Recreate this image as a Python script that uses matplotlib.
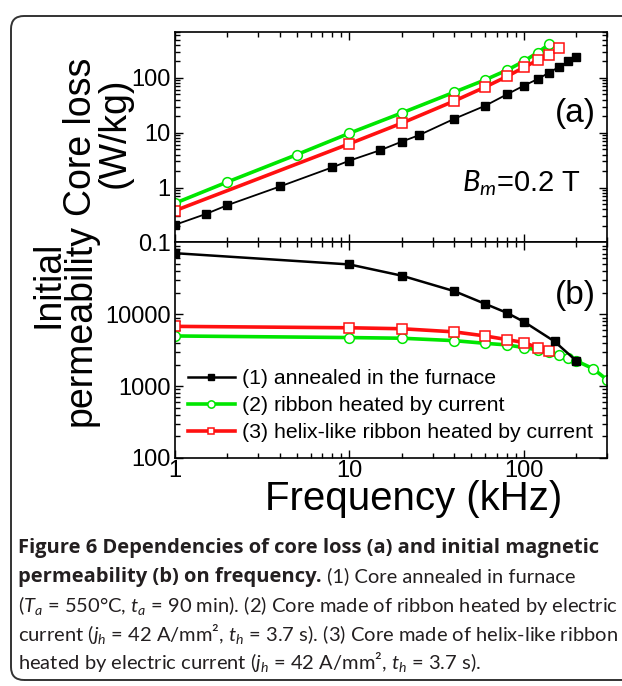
import matplotlib
matplotlib.use("Agg")
import matplotlib.pyplot as plt
from matplotlib.patches import FancyBboxPatch
from matplotlib.ticker import LogLocator, NullFormatter, FixedLocator, FixedFormatter

plt.rcParams["font.family"] = ["Liberation Sans", "DejaVu Sans"]
plt.rcParams["mathtext.fontset"] = "custom"
plt.rcParams["mathtext.rm"] = "Lato"
plt.rcParams["mathtext.it"] = "Lato:italic"

# ---- (a) core loss, W/kg ----
f_loss_1 = [1, 1.5, 2, 4, 8, 10, 15, 20, 25, 40, 60, 80, 100, 120, 140, 160, 180, 200]
loss_1 = [0.21, 0.33, 0.48, 1.05, 2.35, 3.1, 4.8, 6.9, 9.0, 18, 31, 50, 72, 95, 125, 160, 200, 245]
f_loss_2 = [1, 2, 5, 10, 20, 40, 60, 80, 100, 120, 140]
loss_2 = [0.52, 1.27, 4.0, 9.8, 23, 55, 92, 138, 200, 290, 410]
f_loss_3 = [1, 10, 20, 40, 60, 80, 100, 120, 140, 160]
loss_3 = [0.38, 6.3, 15, 38, 68, 106, 155, 210, 260, 345]

# ---- (b) initial permeability ----
f_mu_1 = [1, 10, 20, 40, 60, 80, 100, 150, 200]
mu_1 = [71000, 49500, 34500, 21000, 14000, 10500, 7900, 4200, 2250]
f_mu_2 = [1, 10, 20, 40, 60, 80, 100, 120, 140, 160, 180, 200, 250, 300]
mu_2 = [5000, 4750, 4650, 4300, 3950, 3750, 3450, 3200, 2950, 2750, 2500, 2250, 1750, 1230]
f_mu_3 = [1, 10, 20, 40, 60, 80, 100, 120, 140]
mu_3 = [6800, 6500, 6300, 5700, 5000, 4450, 4050, 3450, 3100]

labels = ["(1) annealed in the furnace",
          "(2) ribbon heated by current",
          "(3) helix-like ribbon heated by current"]

loss_ticks = [0.1, 1, 10, 100]
loss_tick_labels = ["0.1", "1", "10", "100"]
mu_ticks = [100, 1000, 10000]
mu_tick_labels = ["100", "1000", "10000"]
f_ticks = [1, 10, 100]
f_tick_labels = ["1", "10", "100"]

GREEN = "#00e600"
RED = "#ff1010"

W, H = 622, 686
fig = plt.figure(figsize=(W / 100, H / 100), dpi=100)


def px_axes(left, top, right, bottom):
    return fig.add_axes([left / W, 1 - bottom / H, (right - left) / W, (bottom - top) / H])


ax1 = px_axes(175, 31.5, 607, 242.5)
ax2 = px_axes(175, 242.5, 607, 458)

style = dict(
    black=dict(color="black", marker="s", ms=6, mfc="black", mec="black", lw=1.3),
    green=dict(color=GREEN, marker="o", ms=7, mfc="white", mec=GREEN, mew=1.1, lw=2.6),
    red=dict(color=RED, marker="s", ms=6.5, mfc="white", mec=RED, mew=1.1, lw=2.6),
)

ax1.plot(f_loss_2, loss_2, **style["green"])
ax1.plot(f_loss_3, loss_3, **style["red"])
ax1.plot(f_loss_1, loss_1, **style["black"])

h1, = ax2.plot(f_mu_1, mu_1, **{**style["black"], "lw": 1.8})
h2, = ax2.plot(f_mu_2, mu_2, **style["green"])
h3, = ax2.plot(f_mu_3, mu_3, **style["red"])
h1.set_zorder(3)

for ax in (ax1, ax2):
    ax.set_xscale("log")
    ax.set_yscale("log")
    ax.set_xlim(1, 300)
    ax.xaxis.set_major_locator(FixedLocator(f_ticks))
    ax.xaxis.set_minor_locator(LogLocator(base=10, subs=range(2, 10)))
    ax.yaxis.set_minor_locator(LogLocator(base=10, subs=range(2, 10), numticks=20))
    ax.xaxis.set_minor_formatter(NullFormatter())
    ax.yaxis.set_minor_formatter(NullFormatter())
    ax.tick_params(which="both", direction="in", top=True, right=True, width=1.0)
    ax.tick_params(which="major", length=6, labelsize=17, pad=3)
    ax.tick_params(which="minor", length=3.5)
    for sp in ax.spines.values():
        sp.set_linewidth(1.2)

ax1.set_ylim(0.1, 700)
ax1.yaxis.set_major_locator(FixedLocator(loss_ticks))
ax1.yaxis.set_major_formatter(FixedFormatter(loss_tick_labels))
ax1.tick_params(axis="x", labelbottom=False)

ax2.set_ylim(100, 1e5)
ax2.yaxis.set_major_locator(FixedLocator(mu_ticks))
ax2.yaxis.set_major_formatter(FixedFormatter(mu_tick_labels))
ax2.xaxis.set_major_formatter(FixedFormatter(f_tick_labels))
ax2.tick_params(axis="x", pad=1.5)

ax1.text(0.975, 0.61, "(a)", transform=ax1.transAxes, ha="right", va="center", fontsize=24)
ax1.text(0.94, 0.28, r"$B_m$=0.2 T", transform=ax1.transAxes, ha="right", va="center", fontsize=21)
ax2.text(0.975, 0.756, "(b)", transform=ax2.transAxes, ha="right", va="center", fontsize=24)

ax2.legend([h1, h2, h3], labels, loc="lower left", bbox_to_anchor=(0.03, 0.072),
           frameon=False, fontsize=15.3, handlelength=2.2, handletextpad=0.35,
           labelspacing=0.38, borderaxespad=0, borderpad=0, markerscale=0.75)

# axis titles
fig.text(81 / W, 1 - 137 / H, "Core loss", rotation=90, ha="center", va="center", fontsize=27)
fig.text(115 / W, 1 - 133 / H, "(W/kg)", rotation=90, ha="center", va="center", fontsize=27)
fig.text(48 / W, 1 - 284 / H, "Initial", rotation=90, ha="center", va="center", fontsize=27)
fig.text(81 / W, 1 - 325 / H, "permeability", rotation=90, ha="center", va="center", fontsize=27)
fig.text(414 / W, 1 - 499 / H, "Frequency (kHz)", ha="center", va="center", fontsize=29)

# caption frame, open on the right
fig.add_artist(FancyBboxPatch((0.11, 0.06), 6.6, 6.64,
                              boxstyle="round,pad=0,rounding_size=0.13",
                              transform=fig.dpi_scale_trans, fc="none",
                              ec="#333333", lw=1.4, clip_on=False))

cap = dict(family=["Lato", "DejaVu Sans"], fontsize=14.5, va="baseline", ha="left",
           color="#231f20")
bold = dict(cap, family=["Open Sans", "DejaVu Sans"], fontweight="bold", fontsize=14.5)
x0 = 18 / W
fig.text(x0, 1 - 553 / H, "Figure 6 Dependencies of core loss (a) and initial magnetic", **bold)
bold2 = fig.text(x0, 1 - 582 / H, "permeability (b) on frequency.", **bold)
fig.canvas.draw()
bb = bold2.get_window_extent()
fig.text(bb.x1 / W, 1 - 582 / H, " (1) Core annealed in furnace", **cap)
fig.text(x0, 1 - 612 / H, r"($T_a$ = 550°C, $t_a$ = 90 min). (2) Core made of ribbon heated by electric", **cap)
fig.text(x0, 1 - 641 / H, r"current ($j_h$ = 42 A/mm², $t_h$ = 3.7 s). (3) Core made of helix-like ribbon", **cap)
fig.text(x0, 1 - 669 / H, r"heated by electric current ($j_h$ = 42 A/mm², $t_h$ = 3.7 s).", **cap)

fig.savefig("out.png", dpi=100)
